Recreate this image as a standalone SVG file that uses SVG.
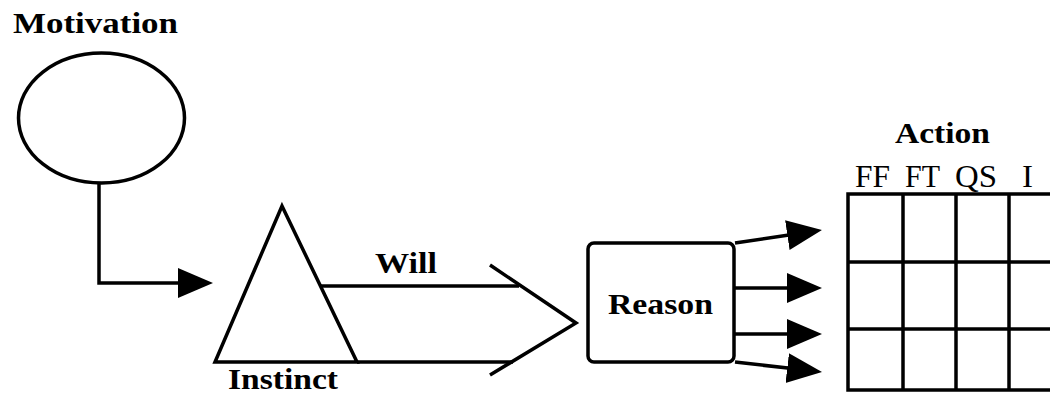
<svg xmlns="http://www.w3.org/2000/svg" width="1050" height="393" viewBox="0 0 1050 393">
<defs>
<style>
.ln{fill:none;stroke:#000;stroke-width:3.5;stroke-linejoin:miter}
.b{font-family:"Liberation Serif",serif;font-weight:bold;font-size:29px;fill:#000}
.r{font-family:"Liberation Serif",serif;font-size:31px;fill:#000}
</style>
<marker id="ah" markerUnits="userSpaceOnUse" markerWidth="36" markerHeight="32" refX="5" refY="15" orient="auto">
<path d="M0,0 L35,15 L0,30 z" fill="#000"/>
</marker>
</defs>
<rect width="1050" height="393" fill="#fff"/>
<g id="motivation">
<text class="b" x="13" y="33" textLength="165" lengthAdjust="spacingAndGlyphs">Motivation</text>
<ellipse class="ln" cx="101.5" cy="118" rx="83" ry="65"/>
</g>
<g id="instinct">
<polygon class="ln" points="282,206 357,362 215,362" stroke-width="4"/>
<text class="b" x="228" y="389" textLength="110" lengthAdjust="spacingAndGlyphs">Instinct</text>
</g>
<g id="will">
<text class="b" x="375" y="273" textLength="62" lengthAdjust="spacingAndGlyphs">Will</text>
</g>
<g id="reason">
<rect class="ln" x="588" y="243" width="146" height="119" rx="6"/>
<text class="b" x="608" y="314" textLength="105" lengthAdjust="spacingAndGlyphs">Reason</text>
</g>
<g id="action">
<text class="b" x="895" y="143" textLength="95" lengthAdjust="spacingAndGlyphs">Action</text>
<text class="r" x="855" y="187" textLength="35" lengthAdjust="spacingAndGlyphs">FF</text>
<text class="r" x="905" y="187" textLength="35" lengthAdjust="spacingAndGlyphs">FT</text>
<text class="r" x="955" y="187" textLength="42" lengthAdjust="spacingAndGlyphs">QS</text>
<text class="r" x="1022" y="187" textLength="11" lengthAdjust="spacingAndGlyphs">I</text>
<rect class="ln" x="848" y="194" width="220" height="196"/>
<line class="ln" x1="848" y1="262" x2="1050" y2="262"/>
<line class="ln" x1="848" y1="329" x2="1050" y2="329"/>
<line class="ln" x1="903" y1="194" x2="903" y2="390"/>
<line class="ln" x1="956" y1="194" x2="956" y2="390"/>
<line class="ln" x1="1009" y1="194" x2="1009" y2="390"/>
</g>
<g id="connectors">
<polyline class="ln" points="99,183 99,283 183,283" marker-end="url(#ah)"/>
<line class="ln" x1="321" y1="286" x2="519" y2="286"/>
<line class="ln" x1="357" y1="362" x2="513" y2="362"/>
<polyline class="ln" points="490,265 576,323 490,375" stroke-width="4"/>
<line class="ln" x1="735" y1="243" x2="792.3" y2="234.4" marker-end="url(#ah)"/>
<line class="ln" x1="735" y1="288" x2="792" y2="288" marker-end="url(#ah)"/>
<line class="ln" x1="735" y1="334" x2="792" y2="334" marker-end="url(#ah)"/>
<line class="ln" x1="735" y1="362" x2="792.2" y2="368.6" marker-end="url(#ah)"/>
</g>
</svg>
